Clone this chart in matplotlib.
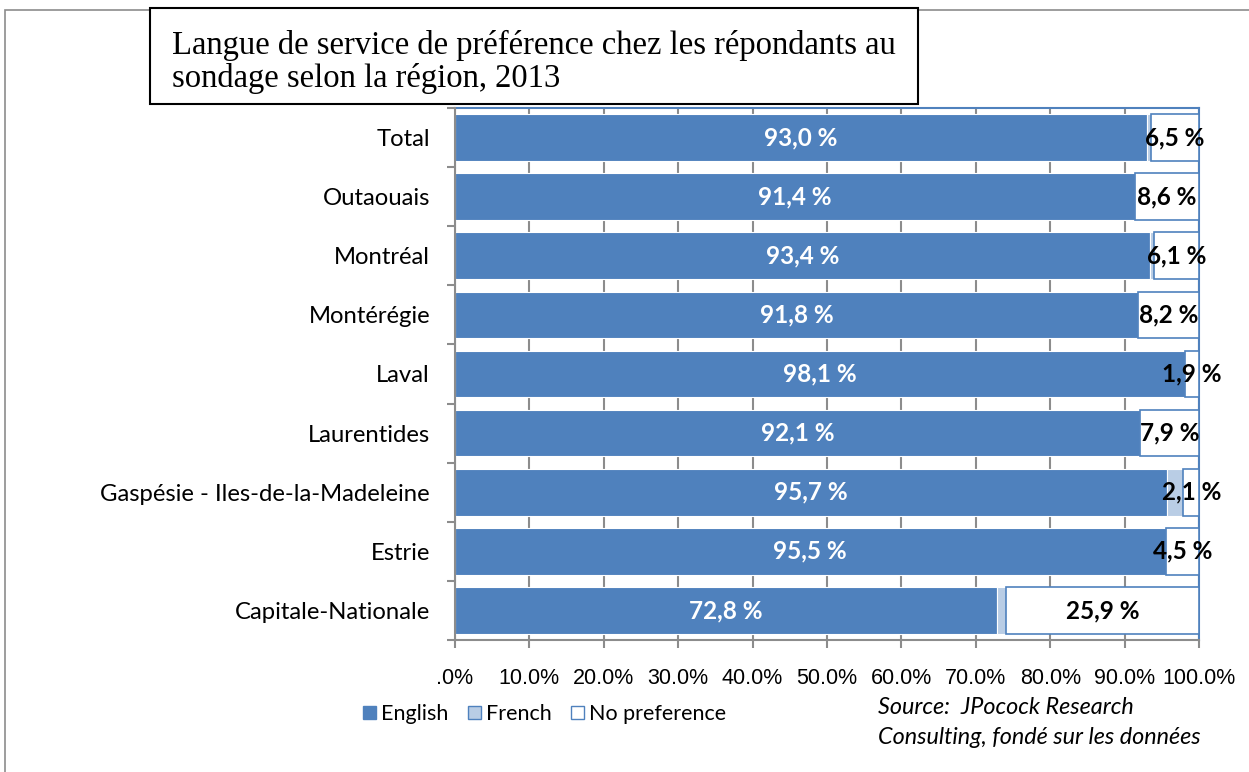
import numpy as np
import matplotlib.pyplot as plt
from matplotlib.patches import Rectangle, Patch

# données
regions = ["Total", "Outaouais", "Montréal", "Montérégie", "Laval", "Laurentides",
           "Gaspésie - Iles-de-la-Madeleine", "Estrie", "Capitale-Nationale"]
english = [93.0, 91.4, 93.4, 91.8, 98.1, 92.1, 95.7, 95.5, 72.8]
no_pref = [6.5, 8.6, 6.1, 8.2, 1.9, 7.9, 2.1, 4.5, 25.9]
french = [0.5, 0.0, 0.5, 0.0, 0.0, 0.0, 2.2, 0.0, 1.3]
xticks = np.arange(0, 101, 10)
xlabels = [".0%"] + ["%.1f%%" % v for v in xticks[1:]]

BLUE = "#4F81BD"
LIGHT = "#B9CDE5"
GRID = "#8C8C8C"

W, H = 1249, 772
fig = plt.figure(figsize=(W / 100, H / 100), dpi=100)

def fx(px):
    return px / W

def fy(py):
    return 1 - py / H

# cadre gris autour du graphique
fig.patches.append(Rectangle((fx(5), fy(H + 20)), 1.2, fy(10) - fy(H + 20),
                             transform=fig.transFigure, fill=False,
                             edgecolor="#8C8C8C", lw=1.2))

ax = fig.add_axes([fx(455), fy(640), fx(1199) - fx(455), fy(108) - fy(640)])

y = np.arange(len(regions))
eng = np.array(english)
fr = np.array(french)
nop = np.array(no_pref)
h = 0.79
ax.barh(y, eng, height=h, color=BLUE, edgecolor="white", lw=0.8, zorder=3)
ax.barh(y, fr, left=eng, height=h, color=LIGHT, edgecolor="white", lw=0.8, zorder=3)
ax.barh(y, nop, left=eng + fr, height=h, color="white", edgecolor=BLUE, lw=1.2, zorder=3)

for i in range(len(regions)):
    ax.text(eng[i] / 2, y[i], ("%.1f %%" % eng[i]).replace(".", ","),
            ha="center", va="center", color="white", fontsize=17.5,
            fontweight="bold", family="Lato", zorder=5)
    c = eng[i] + fr[i] + nop[i] / 2
    ax.text(c, y[i], ("%.1f %%" % nop[i]).replace(".", ","),
            ha="center", va="center", color="black", fontsize=17.5,
            fontweight="bold", family="Lato", zorder=5, clip_on=False)

ax.set_xlim(0, 100)
ax.set_ylim(len(regions) - 0.5, -0.5)
ax.set_xticks(xticks)
ax.set_xticklabels(xlabels, family=["Liberation Sans Narrow", "Liberation Sans"], fontsize=15.5)
ax.set_yticks(y)
ax.set_yticklabels(regions, family="Lato", fontsize=17.2)
ax.set_yticks(np.arange(len(regions) + 1) - 0.5, minor=True)
ax.tick_params(axis="y", which="major", length=0, pad=18)
ax.tick_params(axis="y", which="minor", length=6, width=1.5, color=GRID, direction="out")
ax.tick_params(axis="x", length=6, width=1.5, color=GRID, pad=14)
ax.grid(axis="x", color=GRID, lw=1.5, zorder=0)
ax.set_axisbelow(True)
for s in ["left", "bottom"]:
    ax.spines[s].set_color(GRID)
    ax.spines[s].set_linewidth(1.5)
    ax.spines[s].set_zorder(6)
for s in ["top", "right"]:
    ax.spines[s].set_color(BLUE)
    ax.spines[s].set_linewidth(1.5)

# boîte du titre
fig.patches.append(Rectangle((fx(150), fy(104)), fx(918) - fx(150), fy(8) - fy(104),
                             transform=fig.transFigure, facecolor="white",
                             edgecolor="black", lw=1.5, zorder=10))
fig.text(fx(172), fy(62), "Langue de service de préférence chez les répondants au\nsondage selon la région, 2013",
         family="Liberation Serif", fontsize=23.5, va="center", ha="left",
         linespacing=1.12, zorder=11)

handles = [Patch(facecolor=BLUE, edgecolor=BLUE),
           Patch(facecolor=LIGHT, edgecolor=BLUE),
           Patch(facecolor="white", edgecolor=BLUE)]
fig.legend(handles, ["English", "French", "No preference"], loc="center left",
           bbox_to_anchor=(fx(354), fy(714)), ncol=3, frameon=False,
           prop={"family": "Lato", "size": 15.5}, handlelength=0.6, handleheight=0.6,
           handletextpad=0.25, columnspacing=0.9, borderaxespad=0)

fig.text(fx(878), fy(708), "Source:  JPocock Research", family="Lato",
         style="italic", fontsize=16.8, va="center")
fig.text(fx(878), fy(737), "Consulting, fondé sur les données", family="Lato",
         style="italic", fontsize=16.8, va="center")

fig.savefig("out.png", dpi=100)
